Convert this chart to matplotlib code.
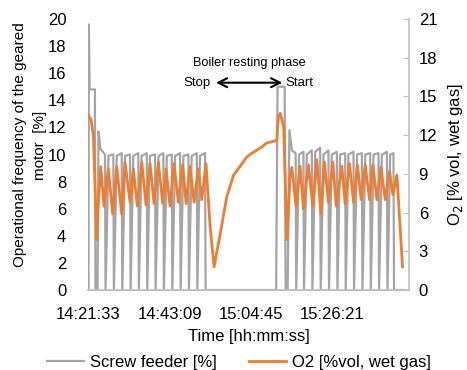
import matplotlib
matplotlib.use("Agg")
import matplotlib.pyplot as plt

plt.rcParams["font.family"] = ["Liberation Sans", "DejaVu Sans"]

# minutes after 14:21:33
FEED_T = [0.0, 0.1, 0.3, 1.7, 1.85, 2.4, 2.65, 3.2,
          4.38, 4.53, 5.3, 6.59, 6.74, 7.5, 8.82, 8.97, 9.7,
          11.03, 11.18, 11.9, 13.23, 13.38, 14.1, 15.46, 15.61, 16.3,
          17.67, 17.82, 18.6, 19.87, 20.02, 20.8, 22.11, 22.26, 23.0,
          24.31, 24.46, 25.2, 26.52, 26.67, 27.4, 28.75, 28.9, 29.6,
          30.95, 31.1, 49.82, 50.2, 52.08, 52.34, 52.87, 53.35, 54.0,
          55.0, 55.15, 55.9, 57.07, 57.22, 57.95, 59.3, 59.45, 60.2,
          61.51, 61.66, 62.4, 63.71, 63.86, 64.6, 65.95, 66.1, 66.8,
          68.15, 68.3, 69.0, 70.36, 70.51, 71.3, 72.59, 72.74, 73.5,
          74.8, 74.95, 75.7, 77.0, 77.15, 77.9, 79.23, 79.38, 80.1,
          80.98, 81.13, 83.6]
FEED_V = [0, 19.6, 14.8, 14.8, 0, 0, 11.7, 10.4,
          10.0, 0, 9.9, 10.0, 0, 9.9, 10.1, 0, 9.9,
          10.0, 0, 9.9, 10.1, 0, 9.9, 10.1, 0, 9.9,
          10.0, 0, 9.9, 10.1, 0, 9.9, 10.0, 0, 9.9,
          10.1, 0, 9.9, 10.0, 0, 9.9, 10.1, 0, 9.9,
          10.1, 0, 0, 15.0, 15.0, 0, 0, 11.8, 10.3,
          10.1, 0, 10.0, 10.2, 0, 10.0, 10.3, 0, 10.2,
          10.5, 0, 10.0, 10.3, 0, 10.0, 10.2, 0, 10.0,
          10.1, 0, 10.0, 10.2, 0, 10.0, 10.1, 0, 10.0,
          10.1, 0, 10.0, 10.1, 0, 10.0, 10.2, 0, 10.0,
          10.1, 0, 0]

O2_T = [0.0, 0.7, 1.3, 1.65, 2.18, 2.5, 3.24, 4.12, 5.26, 6.43, 7.49,
        8.82, 9.7, 11.03, 11.9, 12.97, 14.14, 15.28, 16.34, 17.4, 18.55,
        19.71, 20.59, 21.65, 22.72, 23.86, 25.03, 25.91, 26.97, 28.03,
        29.17, 30.08, 31.2, 32.3, 33.35, 35.0, 36.7, 38.5, 40.3, 42.0,
        43.4, 45.0, 46.1, 47.3, 48.8, 50.0, 50.4, 50.9, 51.8, 52.7, 53.5,
        53.99, 55.13, 56.19, 57.07, 58.4, 59.57, 60.63, 61.7, 62.65,
        63.71, 64.88, 65.76, 67.27, 68.15, 69.29, 70.36, 71.42, 72.4,
        73.47, 74.61, 75.51, 76.57, 77.64, 78.78, 79.92, 80.83, 81.89,
        83.38]
O2_V = [13.5, 13.2, 11.9, 8.8, 3.9, 6.2, 9.56, 6.5, 9.4, 5.9, 9.56,
        5.9, 9.9, 6.8, 9.4, 6.5, 9.9, 6.6, 9.8, 6.7, 9.9,
        6.7, 9.4, 6.5, 9.8, 6.8, 9.7, 6.7, 9.56, 6.8,
        9.4, 7.0, 9.8, 4.9, 1.8, 4.4, 7.2, 8.9, 9.6, 10.3,
        10.6, 10.9, 11.1, 11.4, 11.5, 11.6, 13.4, 13.7, 12.7, 3.9, 8.8,
        9.5, 6.5, 9.6, 6.3, 9.7, 6.5, 10.1, 5.9, 9.9,
        6.8, 9.9, 6.5, 9.6, 6.7, 9.8, 6.8, 9.7, 7.0,
        9.7, 7.0, 9.7, 7.0, 9.5, 7.0, 9.2, 7.4, 8.9,
        1.8]

TICK_POS = [0, 21.6, 43.2, 64.8]
TICK_LABELS = ["14:21:33", "14:43:09", "15:04:45", "15:26:21"]

STOP_T = 33.1
START_T = 52.2

GREY = "#a5a5a5"
ORANGE = "#ed7d31"
AXIS = "#bfbfbf"

fig = plt.figure(figsize=(4.67, 3.70), dpi=100)
ax = fig.add_axes([0.1895, 0.2162, 0.6863, 0.7324])
ax2 = ax.twinx()

l1, = ax.plot(FEED_T, FEED_V, color=GREY, lw=1.6, label="Screw feeder [%]")
l2, = ax2.plot(O2_T, O2_V, color=ORANGE, lw=2.0, label="O2 [%vol, wet gas]")

ax.set_xlim(0, 85.1)
ax.set_ylim(0, 20)
ax2.set_ylim(0, 21)
ax.set_yticks(range(0, 21, 2))
ax2.set_yticks(range(0, 22, 3))
ax.set_xticks(TICK_POS)
ax.set_xticklabels(TICK_LABELS)

for a in (ax, ax2):
    for s in ("top", "left", "right"):
        a.spines[s].set_visible(False)
    a.spines["bottom"].set_color(AXIS)
ax2.spines["right"].set_visible(True)
ax2.spines["right"].set_color(AXIS)
ax2.spines["right"].set_linewidth(1.2)
ax.spines["bottom"].set_linewidth(1.2)

ax.tick_params(axis="y", length=0, pad=16, labelsize=12)
ax.tick_params(axis="x", length=0, pad=12, labelsize=12)
ax2.tick_params(axis="y", direction="in", length=4, color=AXIS,
                pad=7, labelsize=12)

ax.set_ylabel("Operational frequency of the geared\nmotor  [%]",
              fontsize=11, linespacing=1.6)
ax.yaxis.set_label_coords(-0.128, 0.535)
ax2.set_ylabel("O$_2$ [% vol, wet gas]", fontsize=12, labelpad=6)
ax.set_xlabel("Time [hh:mm:ss]", fontsize=12, labelpad=5)

ax.annotate("", xy=(STOP_T, 15.3), xytext=(START_T, 15.3),
            arrowprops=dict(arrowstyle="<->", color="black", lw=1.5,
                            mutation_scale=16))
ax.text(STOP_T - 0.6, 15.3, "Stop", ha="right", va="center", fontsize=9.5)
ax.text(START_T + 0.1, 15.3, "Start", ha="left", va="center", fontsize=9.5)
ax.text((STOP_T + START_T) / 2, 16.75, "Boiler resting phase",
        ha="center", va="center", fontsize=9.2)

fig.legend(handles=[l1, l2], loc="lower center", ncol=2, frameon=False,
           bbox_to_anchor=(0.512, -0.04), fontsize=12, handlelength=2.2,
           handletextpad=0.4, columnspacing=1.9)

fig.savefig("out.png", dpi=100)
